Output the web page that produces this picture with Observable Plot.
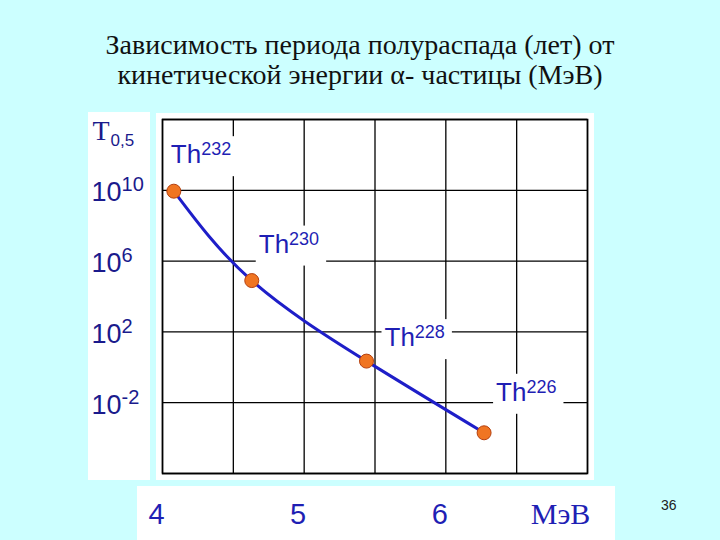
<!DOCTYPE html>
<html>
<head>
<meta charset="utf-8">
<script src="https://cdn.jsdelivr.net/npm/d3@7"></script>
<script src="https://cdn.jsdelivr.net/npm/@observablehq/plot@0.6"></script>
<style>
  html, body { margin: 0; padding: 0; }
  body { width: 720px; height: 540px; background: #ccffff; position: relative; overflow: hidden; }
  #title { position: absolute; left: 0; top: 30px; width: 720px; text-align: center;
           font-family: "Liberation Serif", "Times New Roman", serif; font-size: 28px; line-height: 30px; color: #111; }
  .panel { position: absolute; background: #ffffff; }
  #chart { position: absolute; left: 0; top: 100px; }
  #page { position: absolute; left: 661px; top: 497px; font-family: "Liberation Sans", Arial, sans-serif; font-size: 14px; color: #222; }
</style>
</head>
<body>
<div id="title">Зависимость периода полураспада (лет) от<br>кинетической энергии α- частицы (МэВ)</div>
<div class="panel" style="left:88px; top:112px; width:62px; height:368px;"></div>
<div class="panel" style="left:137px; top:486px; width:478px; height:54px;"></div>
<div class="panel" style="left:156px; top:113px; width:438px; height:367px;"></div>
<div id="chart"></div>
<div id="page">36</div>
<script>
// ---- data ----
const energy = [4.08, 4.63, 5.44, 6.27];          // MeV
const logT = [9.95, 4.9, 0.35, -3.7];              // log10 of half-life (years)
const isotopes = ["Th^232", "Th^230", "Th^228", "Th^226"];
const yTicks = [10, 6, 2, -2];
const yTickLabels = ["10^10", "10^6", "10^2", "10^-2"];
const xTicks = [4, 5, 6];
const xTickLabels = ["4", "5", "6"];
const xUnit = "МэВ";
const yTitle = "T_0,5";
const xGrid = [4, 4.5, 5, 5.5, 6, 6.5, 7];
const yGrid = [-6, -2, 2, 6, 10, 14];

const points = energy.map((e, i) => ({energy: e, logT: logT[i], name: isotopes[i]}));

const sans = "Liberation Sans, Arial, sans-serif";
const serif = "Liberation Serif, Times New Roman, serif";
const navy = "#1a1a8c";
const blue = "#1f1fb4";

// per-label offsets (px) from each point to the label baseline start
const labelDx = [-3, 7, 18, 12];
const labelDy = [-28, -28, -15, -32];

const labelMarks = points.map((p, i) => Plot.text([p], {
  x: "energy", y: "logT", text: "name",
  textAnchor: "start", lineAnchor: "bottom",
  dx: labelDx[i], dy: labelDy[i],
  fontSize: 26, fontFamily: sans, fill: blue,
  className: "thlabel"
}));

const chart = Plot.plot({
  width: 720, height: 440,
  marginLeft: 162, marginRight: 133, marginTop: 19, marginBottom: 67,
  style: {background: "transparent", overflow: "visible"},
  x: {domain: [4, 7], axis: null},
  y: {domain: [-6, 14], axis: null},
  marks: [
    Plot.ruleX(xGrid, {stroke: "#000", strokeWidth: 1.3}),
    Plot.ruleY(yGrid, {stroke: "#000", strokeWidth: 1.3}),
    Plot.frame({stroke: "#000", strokeWidth: 1.6}),
    ...labelMarks,
    Plot.line(points, {x: "energy", y: "logT", curve: "natural", stroke: "#1e1ec8", strokeWidth: 3}),
    Plot.dot(points, {x: "energy", y: "logT", r: 7, fill: "#f07522", stroke: "#b5400f", strokeWidth: 1}),
    // y tick labels
    Plot.text(yTicks, {y: d => d, text: (d, i) => yTickLabels[i], frameAnchor: "left",
      textAnchor: "start", lineAnchor: "bottom", dx: -71, dy: 11,
      fontSize: 27, fontFamily: sans, fill: navy}),
    // y title
    Plot.text([yTitle], {text: d => d, frameAnchor: "top-left", textAnchor: "start", lineAnchor: "bottom",
      dx: -70, dy: 20, fontSize: 28, fontFamily: serif, fill: navy}),
    // x tick labels
    Plot.text(xTicks, {x: d => d, text: (d, i) => xTickLabels[i], frameAnchor: "bottom",
      textAnchor: "middle", lineAnchor: "bottom", dx: -6, dy: 50,
      fontSize: 29, fontFamily: sans, fill: blue}),
    // x unit
    Plot.text([xUnit], {text: d => d, frameAnchor: "bottom-right", textAnchor: "middle", lineAnchor: "bottom",
      dx: -27, dy: 50, fontSize: 30, fontFamily: serif, fill: blue})
  ]
});

document.getElementById("chart").appendChild(chart);

// turn "a^b" into superscripts and "a_b" into subscripts
const SVGNS = "http://www.w3.org/2000/svg";
chart.querySelectorAll("text").forEach(t => {
  const s = t.textContent;
  let m;
  if ((m = s.match(/^(.*?)\^(.*)$/))) {
    const isTh = s.startsWith("Th");
    t.textContent = "";
    const a = document.createElementNS(SVGNS, "tspan");
    a.textContent = m[1];
    const b = document.createElementNS(SVGNS, "tspan");
    b.textContent = m[2];
    b.setAttribute("font-size", isTh ? 18 : 20);
    b.setAttribute("dy", isTh ? -8 : -10);
    t.appendChild(a); t.appendChild(b);
  } else if ((m = s.match(/^(.*?)_(.*)$/))) {
    t.textContent = "";
    const a = document.createElementNS(SVGNS, "tspan");
    a.textContent = m[1];
    const b = document.createElementNS(SVGNS, "tspan");
    b.textContent = m[2];
    b.setAttribute("font-size", 17);
    b.setAttribute("font-family", sans);
    b.setAttribute("dy", 6);
    b.setAttribute("dx", 1);
    t.appendChild(a); t.appendChild(b);
  }
});

// white boxes behind isotope labels (covering the grid as on the slide)
chart.querySelectorAll(".thlabel text").forEach(t => {
  const bb = t.getBBox();
  const r = document.createElementNS(SVGNS, "rect");
  r.setAttribute("x", bb.x - 3);
  r.setAttribute("y", bb.y - 3);
  r.setAttribute("width", bb.width + 10);
  r.setAttribute("height", bb.height + 10);
  r.setAttribute("fill", "#ffffff");
  r.setAttribute("stroke", "none");
  const tr = t.getAttribute("transform");
  if (tr) r.setAttribute("transform", tr);
  t.parentNode.insertBefore(r, t);
});
</script>
</body>
</html>
